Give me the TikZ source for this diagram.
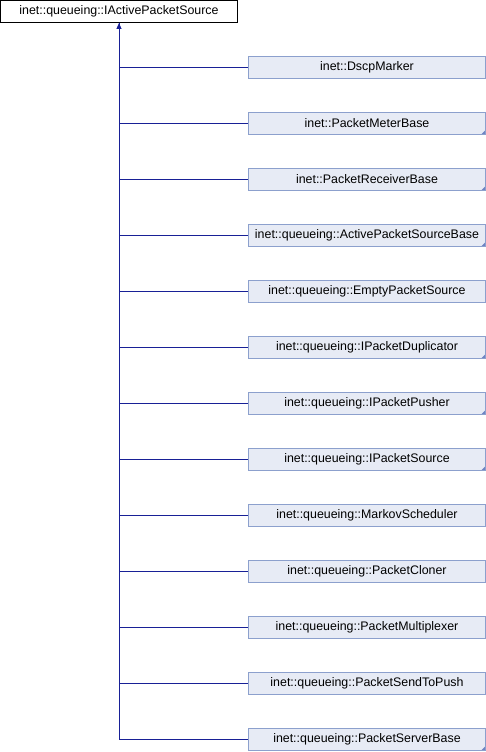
\documentclass[tikz,border=0pt]{standalone}
\usepackage{fontspec}
\setmainfont{Liberation Sans}
\usepackage{tikz}
\usetikzlibrary{arrows.meta,positioning}
\definecolor{edgeblue}{RGB}{24,32,150}
\definecolor{boxfill}{RGB}{231,235,245}
\definecolor{boxline}{RGB}{140,160,205}
\definecolor{cornerblue}{RGB}{110,132,196}
\tikzset{
  >={Triangle[length=6bp,width=5bp]},
  basecls/.style ={draw=black, fill=white, line width=1bp, inner sep=0pt,
                   minimum width=237bp, minimum height=22bp,
                   font=\fontsize{12.4bp}{14bp}\selectfont},
  derived/.style ={draw=boxline, fill=boxfill, line width=1bp, inner sep=0pt,
                   minimum width=237bp, minimum height=22bp,
                   font=\fontsize{12.4bp}{14bp}\selectfont},
  derivedx/.style={derived, path picture={
                   \fill[cornerblue] (path picture bounding box.south east)
                     -- ++(-4.5bp,0) -- ++(4.5bp,4.5bp) -- cycle;}},
  edge/.style    ={draw=edgeblue, line width=1bp}
}
\begin{document}
\begin{tikzpicture}[x=1bp, y=-1bp, node distance=33bp]
\useasboundingbox (0,0) rectangle (486,752);
\node[basecls] (base) at (119,11.5) {inet::queueing::IActivePacketSource};
\node[derived]  (dscp)   at (367,67.5)      {inet::DscpMarker};
\node[derivedx] (meter)  [below=of dscp]    {inet::PacketMeterBase};
\node[derivedx] (recv)   [below=of meter]   {inet::PacketReceiverBase};
\node[derivedx] (apsb)   [below=of recv]    {inet::queueing::ActivePacketSourceBase};
\node[derived]  (empty)  [below=of apsb]    {inet::queueing::EmptyPacketSource};
\node[derivedx] (dup)    [below=of empty]   {inet::queueing::IPacketDuplicator};
\node[derivedx] (pusher) [below=of dup]     {inet::queueing::IPacketPusher};
\node[derivedx] (source) [below=of pusher]  {inet::queueing::IPacketSource};
\node[derived]  (markov) [below=of source]  {inet::queueing::MarkovScheduler};
\node[derived]  (cloner) [below=of markov]  {inet::queueing::PacketCloner};
\node[derived]  (mux)    [below=of cloner]  {inet::queueing::PacketMultiplexer};
\node[derived]  (s2p)    [below=of mux]     {inet::queueing::PacketSendToPush};
\node[derivedx] (server) [below=of s2p]     {inet::queueing::PacketServerBase};
\draw[edge] (base) |- (dscp);
\draw[edge] (base) |- (meter);
\draw[edge] (base) |- (recv);
\draw[edge] (base) |- (apsb);
\draw[edge] (base) |- (empty);
\draw[edge] (base) |- (dup);
\draw[edge] (base) |- (pusher);
\draw[edge] (base) |- (source);
\draw[edge] (base) |- (markov);
\draw[edge] (base) |- (cloner);
\draw[edge] (base) |- (mux);
\draw[edge] (base) |- (s2p);
\draw[edge,<-] (base) |- (server);
\end{tikzpicture}
\end{document}
